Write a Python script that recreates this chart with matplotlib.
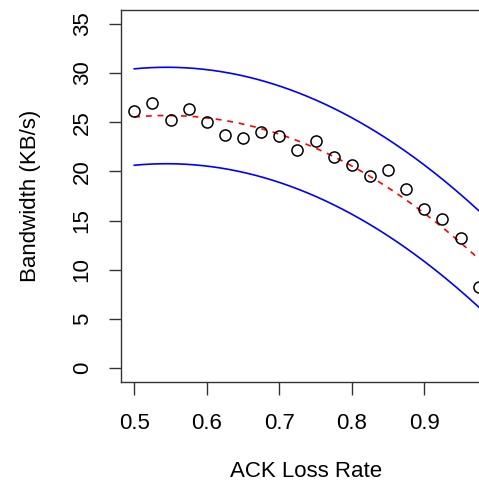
import numpy as np
import matplotlib.pyplot as plt

plt.rcParams['font.family'] = ['Liberation Sans', 'DejaVu Sans']

loss_rate = [0.5, 0.525, 0.55, 0.575, 0.6, 0.625, 0.65, 0.675, 0.7, 0.725,
             0.75, 0.775, 0.8, 0.825, 0.85, 0.875, 0.9, 0.925, 0.95, 0.975]
bandwidth = [26.1, 26.9, 25.2, 26.3, 25.0, 23.7, 23.4, 24.0, 23.6, 22.2,
             23.1, 21.5, 20.7, 19.5, 20.1, 18.2, 16.2, 15.2, 13.2, 8.3]
band_half_width = 4.9  # distance of blue bounds from the fit
x_ticks = [0.5, 0.6, 0.7, 0.8, 0.9]
y_ticks = [0, 5, 10, 15, 20, 25, 30, 35]

# quadratic fit, like lm(y ~ poly(x, 2))
coef = np.polyfit(loss_rate, bandwidth, 2)
xs = np.linspace(min(loss_rate), max(loss_rate), 200)
fit = np.polyval(coef, xs)

fig = plt.figure(figsize=(4.79, 4.88), dpi=100)
ax = fig.add_axes([120.5 / 479, 1 - 382 / 488, (492.5 - 120.5) / 479, 372 / 488])

ax.plot(xs, fit + band_half_width, color='#0000ff', lw=1.2)
ax.plot(xs, fit - band_half_width, color='#0000ff', lw=1.2)
ax.plot(xs, fit, color='#ff0000', lw=1.2, ls=(0, (3.5, 3.5)))
ax.plot(loss_rate, bandwidth, 'o', mfc='none', mec='black', ms=8, mew=1.1)

# R-style 4% padding around the data range
ax.set_xlim(0.481, 0.994)
ax.set_ylim(-1.4, 36.4)
ax.set_xticks(x_ticks)
ax.set_xticklabels([str(v) for v in x_ticks])
ax.set_yticks(y_ticks)
ax.set_yticklabels([str(v) for v in y_ticks], rotation=90, va='center')

for sp in ax.spines.values():
    sp.set_color('#333333')
    sp.set_linewidth(1.0)

ax.tick_params(axis='both', direction='out', length=9, width=1, color='#333333',
               labelsize=16)
ax.tick_params(axis='x', pad=13.5)
ax.tick_params(axis='y', pad=11)

ax.set_xlabel('ACK Loss Rate', fontsize=16, labelpad=19)
ax.set_ylabel('Bandwidth (KB/s)', fontsize=16, labelpad=22)

fig.savefig('out.png', dpi=100)
